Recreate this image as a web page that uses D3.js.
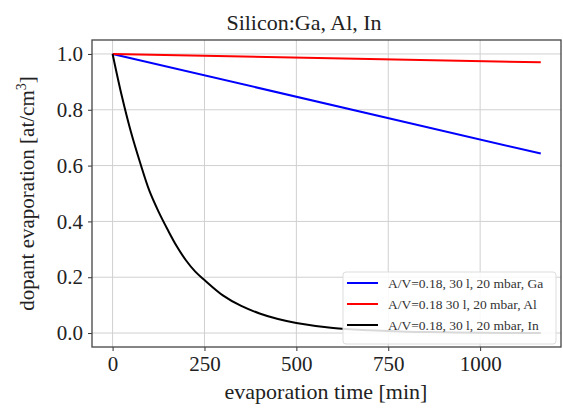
<!DOCTYPE html>
<html>
<head>
<meta charset="utf-8">
<script src="https://cdn.jsdelivr.net/npm/d3@7"></script>
<style>
  body { margin: 0; background: #fff; }
  svg { display: block; font-family: 'Liberation Serif', 'DejaVu Serif', serif; }
</style>
</head>
<body>
<svg id="chart" width="563" height="409"></svg>
<script>
// values
const timeGa = [0, 1165];
const valueGa = [1.0, 0.643];
const timeAl = [0, 1165];
const valueAl = [1.0, 0.97];
const timeIn = [0, 25, 50, 75, 100, 125, 150, 175, 200, 225, 250, 300, 350, 400, 450, 500, 600, 700, 800, 900, 1000, 1165];
const valueIn = [1.0, 0.85, 0.72, 0.61, 0.51, 0.435, 0.37, 0.31, 0.26, 0.22, 0.19, 0.135, 0.097, 0.07, 0.05, 0.036, 0.018, 0.01, 0.005, 0.003, 0.001, 0.0005];
const xTicks = [0, 250, 500, 750, 1000];
const yTicks = [0.0, 0.2, 0.4, 0.6, 0.8, 1.0];
const seriesNames = ['A/V=0.18, 30 l, 20 mbar, Ga', 'A/V=0.18 30 l, 20 mbar, Al', 'A/V=0.18, 30 l, 20 mbar, In'];
const seriesColors = ['#0000ff', '#ff0000', '#000000'];

const margin = { top: 40, right: 2, bottom: 62, left: 92 };
const width = 563 - margin.left - margin.right;
const height = 409 - margin.top - margin.bottom;

const svg = d3.select('#chart');
const chart = svg.append('g').attr('transform', `translate(${margin.left},${margin.top})`);

const x = d3.scaleLinear().domain([-56, 1220]).range([0, width]);
const y = d3.scaleLinear().domain([-0.05, 1.05]).range([height, 0]);

// grid
chart.append('g')
  .selectAll('line')
  .data(xTicks)
  .enter()
  .append('line')
  .attr('x1', d => x(d)).attr('x2', d => x(d))
  .attr('y1', 0).attr('y2', height)
  .attr('stroke', '#d0d0d0').attr('stroke-width', 1);

chart.append('g')
  .selectAll('line')
  .data(yTicks)
  .enter()
  .append('line')
  .attr('y1', d => y(d)).attr('y2', d => y(d))
  .attr('x1', 0).attr('x2', width)
  .attr('stroke', '#d0d0d0').attr('stroke-width', 1);

// axes
const xAxis = chart.append('g')
  .attr('transform', `translate(0,${height})`)
  .call(d3.axisBottom(x).tickValues(xTicks).tickSize(4).tickPadding(5).tickFormat(d3.format('d')));
const yAxis = chart.append('g')
  .call(d3.axisLeft(y).tickValues(yTicks).tickSize(4).tickPadding(5).tickFormat(d3.format('.1f')));
[xAxis, yAxis].forEach(a => {
  a.select('.domain').remove();
  a.selectAll('line').attr('stroke', '#333');
  a.selectAll('text').attr('font-size', '21px').attr('fill', '#222').attr('font-family', 'Liberation Serif');
});

// frame
chart.append('rect')
  .attr('width', width).attr('height', height)
  .attr('fill', 'none').attr('stroke', '#444').attr('stroke-width', 1.3);

// lines
const series = [
  { t: timeGa, v: valueGa },
  { t: timeAl, v: valueAl },
  { t: timeIn, v: valueIn },
];
const line = d3.line().x(d => x(d[0])).y(d => y(d[1])).curve(d3.curveCatmullRom.alpha(0.5));
series.forEach((s, i) => {
  chart.append('path')
    .datum(s.t.map((t, j) => [t, s.v[j]]))
    .attr('d', line)
    .attr('fill', 'none')
    .attr('stroke', seriesColors[i])
    .attr('stroke-width', 2);
});

// legend
const legend = chart.append('g').attr('transform', `translate(${251},${232})`);
legend.append('rect')
  .attr('width', 213).attr('height', 72).attr('rx', 3)
  .attr('fill', 'rgba(255,255,255,0.85)').attr('stroke', '#ddd');
seriesNames.forEach((name, i) => {
  const ly = 11 + i * 21;
  legend.append('line')
    .attr('x1', 4).attr('x2', 35).attr('y1', ly).attr('y2', ly)
    .attr('stroke', seriesColors[i]).attr('stroke-width', 2);
  legend.append('text')
    .attr('x', 45).attr('y', ly + 5)
    .attr('font-size', '13.5px').attr('fill', '#333')
    .text(name);
});

// title and labels
svg.append('text')
  .attr('x', 304).attr('y', 30)
  .attr('text-anchor', 'middle').attr('font-size', '22px').attr('fill', '#222')
  .text('Silicon:Ga, Al, In');

svg.append('text')
  .attr('x', 326).attr('y', 399)
  .attr('text-anchor', 'middle').attr('font-size', '22px').attr('fill', '#222')
  .text('evaporation time [min]');

const yl = svg.append('text')
  .attr('transform', `translate(34,${margin.top + height / 2}) rotate(-90)`)
  .attr('text-anchor', 'middle').attr('font-size', '21px').attr('fill', '#222');
yl.append('tspan').text('dopant evaporation [at/cm');
yl.append('tspan').attr('font-size', '14px').attr('dy', -8).text('3');
yl.append('tspan').attr('dy', 8).text(']');
</script>
</body>
</html>
